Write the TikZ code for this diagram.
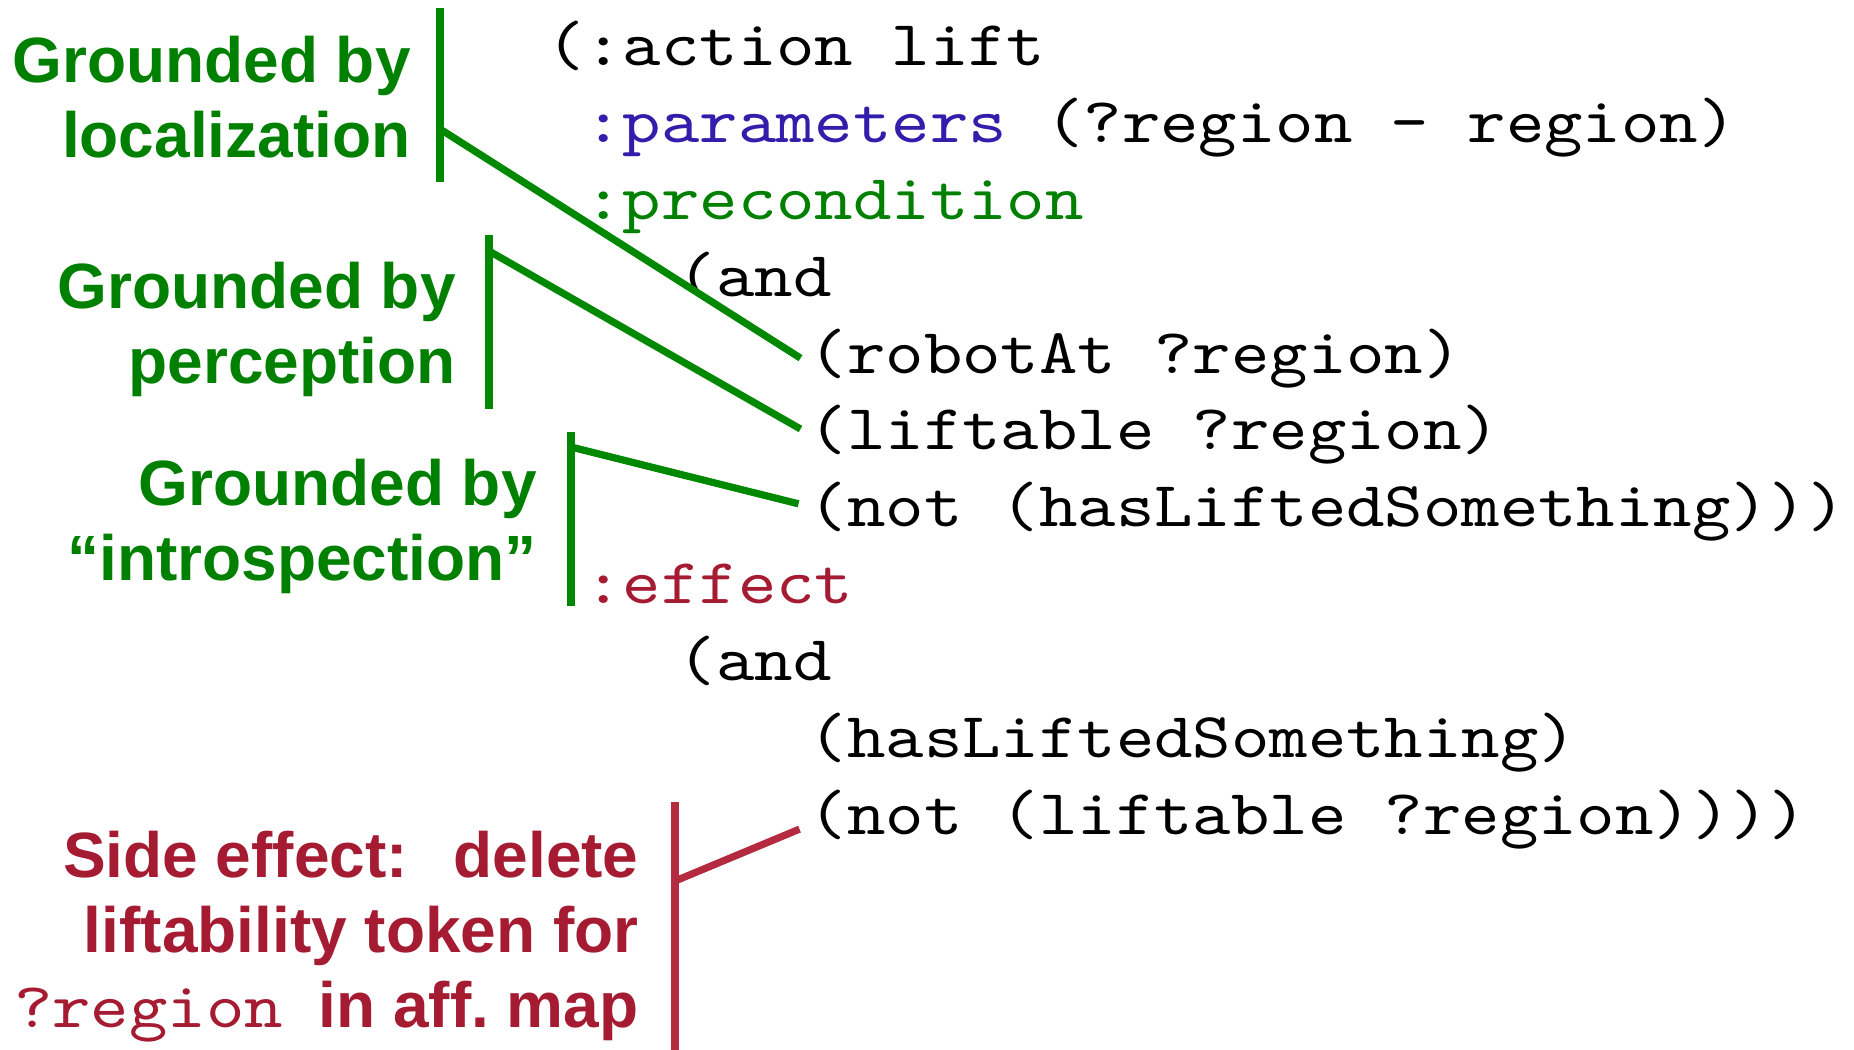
\documentclass[tikz,border=0pt]{standalone}
\usepackage{fontspec}
\setmainfont{Liberation Sans}
\newfontfamily\codefont{lmmono10-regular.otf}[FakeStretch=1.143]
\definecolor{lgreen}{RGB}{0,128,0}
\definecolor{linegreen}{RGB}{0,136,0}
\definecolor{pblue}{RGB}{50,30,170}
\definecolor{tred}{RGB}{165,27,50}
\definecolor{lred}{RGB}{180,42,62}
\tikzset{
  codetxt/.style={anchor=base west, inner sep=0pt, font=\codefont\fontsize{32}{38.4}\selectfont},
  labtxt/.style={anchor=base east, inner sep=0pt, align=right, font=\bfseries\fontsize{32}{37.5}\selectfont},
  gline/.style={draw=linegreen, line width=3.6pt},
  rline/.style={draw=lred, line width=3.6pt}
}
\begin{document}
\begin{tikzpicture}[x=0.5pt,y=-0.5pt]
\useasboundingbox (0,0) rectangle (1854,1050);
% code
\node[codetxt] (l1) at (545.7,65.7) {(:action lift};
\node[codetxt] (l2) at (584.1,142.5) {{\color{pblue}:parameters} (?region - region)};
\node[codetxt, text=lgreen] (l3) at (584.1,219.4) {:precondition};
\node[codetxt] (and1) at (677.5,296.2) {(and};
\node[codetxt] (robot) at (808.5,373.0) {(robotAt ?region)};
\node[codetxt] (lift) at (808.5,449.9) {(liftable ?region)};
\node[codetxt] (nothas) at (808.5,526.7) {(not (hasLiftedSomething)))};
\node[codetxt, text=tred] (eff) at (584.1,603.5) {:effect};
\node[codetxt] (and2) at (677.5,680.3) {(and};
\node[codetxt] (has) at (808.5,757.2) {(hasLiftedSomething)};
\node[codetxt] (notlift) at (808.5,834.0) {(not (liftable ?region))))};
% labels (base = last line's baseline)
\node[labtxt, text=lgreen] (g1) at (411,157) {Grounded by\\localization};
\node[labtxt, text=lgreen] (g2) at (456,383) {Grounded by\\perception};
\node[labtxt, text=lgreen] (g3) at (537,580) {Grounded by\\“introspection”};
\node[labtxt, text=tred] (se) at (639,1027) {Side effect:\ \ \kern5pt delete\\liftability token for\\{\codefont\mdseries ?region}\ \ in aff.\ map};
% bars
\coordinate (b1t) at (440,8);   \coordinate (b1b) at (440,182); \coordinate (b1j) at (440,129);
\coordinate (b2t) at (489,235); \coordinate (b2b) at (489,409); \coordinate (b2j) at (489,251);
\coordinate (b3t) at (571,432); \coordinate (b3b) at (571,606); \coordinate (b3j) at (571,447);
\coordinate (b4t) at (675,802); \coordinate (b4b) at (675,1052); \coordinate (b4j) at (675,881);
\draw[gline] (b1t) -- (b1b);
\draw[gline] (b2t) -- (b2b);
\draw[gline] (b3t) -- (b3b);
\draw[rline] (b4t) -- (b4b);
\draw[gline] (b1j) -- ([shift={(-8,0)}]robot.west);
\draw[gline] (b2j) -- ([shift={(-8,-6)}]lift.west);
\draw[gline] (b3j) -- ([shift={(-10,-8)}]nothas.west);
\draw[rline] (b4j) -- ([shift={(-9,10)}]notlift.west);
\end{tikzpicture}
\end{document}
